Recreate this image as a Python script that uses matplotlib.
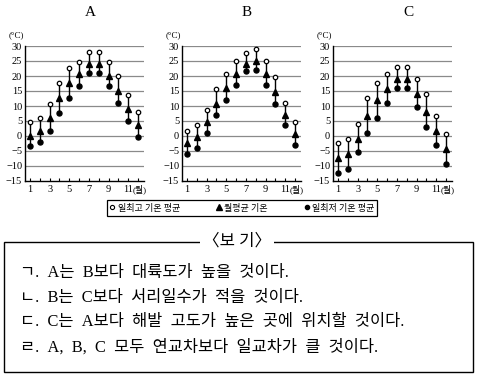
import numpy as np
import matplotlib
matplotlib.use("Agg")
import matplotlib.pyplot as plt
from matplotlib.lines import Line2D
from matplotlib.patches import Rectangle
from matplotlib.transforms import blended_transform_factory, offset_copy

FONTS = ["Liberation Serif", "Noto Sans CJK KR", "DejaVu Sans"]
plt.rcParams["font.family"] = FONTS
plt.rcParams["axes.unicode_minus"] = True

months = np.arange(1, 13)
stations = ["A", "B", "C"]

# 일최고 기온 평균 / 월평균 기온 / 일최저 기온 평균 (°C)
a_high = [4.5, 6, 10.5, 17.5, 22.5, 24.5, 28, 28, 24.5, 20, 13.5, 8]
a_mean = [0, 1.5, 6, 12.5, 17.5, 20.5, 24, 24, 20, 15, 9, 3.5]
a_low = [-3.5, -2, 1.5, 7.5, 12.5, 16.5, 21, 21, 16.5, 11, 5, -0.5]

b_high = [1.5, 3.5, 8.5, 15.5, 20.5, 25, 27.5, 29, 25, 19.5, 11, 4.5]
b_mean = [-2.5, -0.5, 4.5, 10.5, 16, 20.5, 24, 25, 20.5, 14.5, 7, 0.5]
b_low = [-6, -4, 1, 7, 12, 17, 21.5, 22, 17, 10.5, 3.5, -3]

c_high = [-2.5, -1, 4, 12.5, 17.5, 20.5, 23, 23, 19, 14, 6.5, 0.5]
c_mean = [-7.5, -6, -1, 6.5, 12, 15.5, 19, 19, 14, 8, 1.5, -4.5]
c_low = [-12.5, -11, -5.5, 1, 6, 11, 16, 16, 9.5, 3, -3, -9.5]

yticks = [30, 25, 20, 15, 10, 5, 0, -5, -10, -15]
xticks = [1, 3, 5, 7, 9, 11]
legend_labels = ["일최고 기온 평균", "월평균 기온", "일최저 기온 평균"]
box_title = "〈보 기〉"
box_lines = [
    "ㄱ. A는 B보다 대륙도가 높을 것이다.",
    "ㄴ. B는 C보다 서리일수가 적을 것이다.",
    "ㄷ. C는 A보다 해발 고도가 높은 곳에 위치할 것이다.",
    "ㄹ. A, B, C 모두 연교차보다 일교차가 클 것이다.",
]

W, H = 478, 377
fig = plt.figure(figsize=(W / 100, H / 100), dpi=100)


def fx(px):
    return px / W


def fy(py):
    return 1 - py / H


data = [(a_high, a_mean, a_low), (b_high, b_mean, b_low), (c_high, c_mean, c_low)]
lefts = [25, 182, 333]
titles_x = [90, 247, 408]

for name, (hi, me, lo), left, tx in zip(stations, data, lefts, titles_x):
    ax = fig.add_axes([fx(left), fy(181), fx(119), 135 / H])
    ax.set_xlim(0.5, 12.6)
    ax.set_ylim(-15, 30)
    for y in yticks[:-1]:
        ax.axhline(y, color="#8a8a8a", lw=0.9, zorder=0)
    ax.vlines(months, lo, hi, color="black", lw=1.0, zorder=2)
    ax.plot(months, hi, "o", ms=3.2, mfc="white", mec="black", mew=0.9, zorder=3)
    ax.plot(months, me, "^", ms=4.2, color="black", zorder=3)
    ax.plot(months, lo, "o", ms=3.6, color="black", zorder=3)
    for s in ["top", "right"]:
        ax.spines[s].set_visible(False)
    ax.spines["left"].set_linewidth(1.0)
    ax.spines["bottom"].set_linewidth(1.0)
    ax.set_yticks(yticks)
    ax.set_yticklabels([f"{v}".replace("-", "\u2212") for v in yticks], fontsize=7.5)
    ax.tick_params(axis="y", length=0, pad=2)
    ax.set_xticks(months, minor=True)
    ax.set_xticks(xticks)
    ax.set_xticklabels([str(v) for v in xticks], fontsize=7.5)
    ax.tick_params(axis="x", which="both", direction="in", length=2.5, width=0.8, pad=3)
    tr = offset_copy(blended_transform_factory(ax.transData, ax.transAxes),
                     fig=fig, x=0, y=-8.4, units="points")
    ax.text(11.42, 0, "(월)", transform=tr, fontsize=6.5, ha="left",
            va="baseline", clip_on=False)
    fig.text(fx(left - 1), fy(35), "(°C)", fontsize=6.5, ha="right", va="center")
    fig.text(fx(tx), fy(13), name, fontsize=11, ha="center", va="center")

# legend
handles = [
    Line2D([], [], ls="none", marker="o", ms=3, mfc="white", mec="black", mew=0.8),
    Line2D([], [], ls="none", marker="^", ms=4, color="black"),
    Line2D([], [], ls="none", marker="o", ms=3, color="black"),
]
leg = fig.legend(handles, legend_labels, loc="center",
                 bbox_to_anchor=(fx(242), fy(208)), ncol=3, fontsize=6.5,
                 handlelength=0.6, handletextpad=0.3, columnspacing=4.0,
                 borderpad=0.35, fancybox=False, edgecolor="black",
                 framealpha=1)
leg.get_frame().set_linewidth(0.9)

# 보기 box
fig.add_artist(Rectangle((fx(4), fy(372)), fx(469), (372 - 242) / H,
                         transform=fig.transFigure, fill=False,
                         edgecolor="black", lw=1.0))
fig.text(fx(237), fy(242), box_title, fontsize=12, ha="center", va="center",
         bbox=dict(facecolor="white", edgecolor="none", pad=2))
for i, line in enumerate(box_lines):
    # wider word gaps, as in the printed original
    fig.text(fx(20), fy(273 + i * 24.7), line.replace(" ", "\u2002"),
             fontsize=11.8, ha="left", va="center")

fig.savefig("out.png", dpi=100)
